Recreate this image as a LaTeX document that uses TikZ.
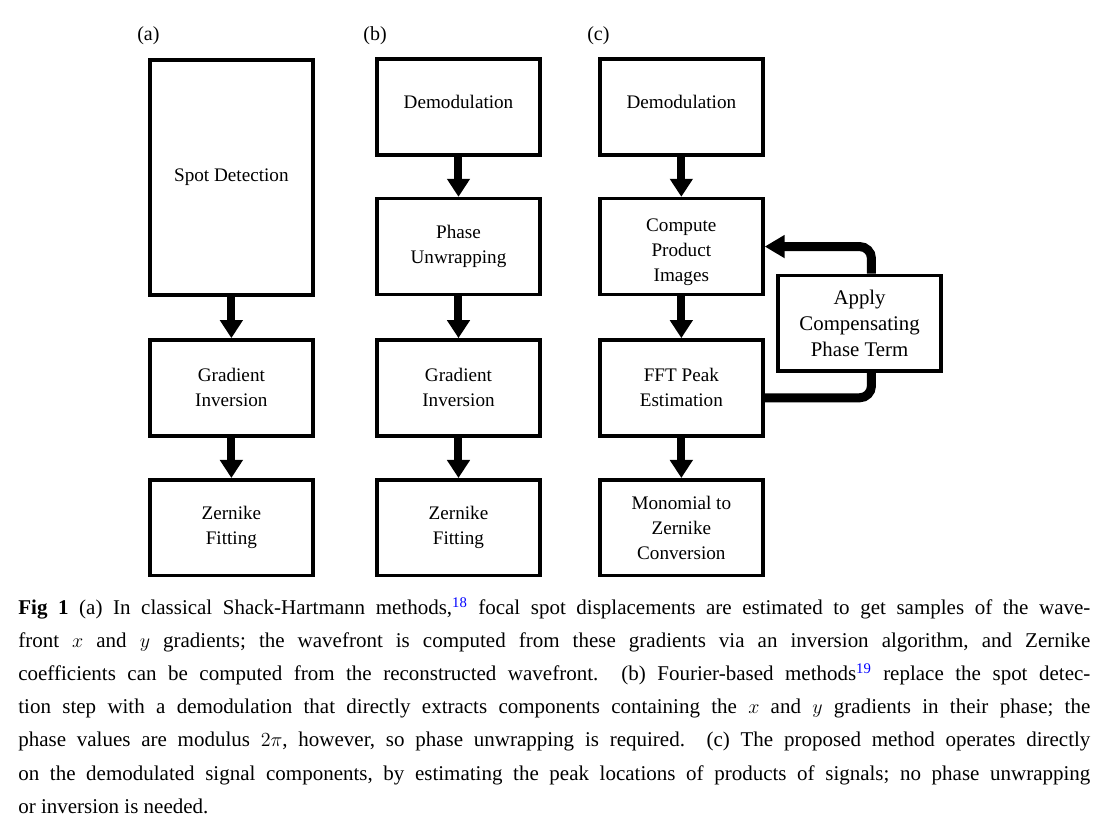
\documentclass[tikz,border=0pt]{standalone}
\usepackage{fontspec}
\setmainfont{Liberation Serif}
\usetikzlibrary{arrows.meta,positioning}
\definecolor{figink}{HTML}{000000}
\definecolor{citeblue}{HTML}{0000FF}
\tikzset{
  stepbox/.style={draw=figink, line width=2.2pt, minimum width=3.44cm,
    minimum height=2.02cm, align=center, text=figink,
    font=\fontsize{11.5}{15}\selectfont},
  tallbox/.style={stepbox, minimum height=4.96cm},
  panellabel/.style={font=\fontsize{12}{14}\selectfont, text=figink},
  flowarrow/.style={-{Triangle[length=10.8pt,width=13.2pt]}, draw=figink,
    line width=4.8pt},
  loopline/.style={draw=figink, line width=5.4pt, rounded corners=.25cm},
  looparrow/.style={loopline, -{Triangle[length=12pt,width=13.2pt]}}
}
\begin{document}
\begin{tikzpicture}[x=1cm,y=1cm]
  \useasboundingbox (0,0) rectangle (23.39,17.71);
  % Three processing chains side by side.
  \node[panellabel] (la) at (3.13,16.96) {(a)};
  \node[panellabel] (lb) at (7.91,16.96) {(b)};
  \node[panellabel] (lc) at (12.62,16.96) {(c)};

  % (a) classical Shack-Hartmann
  \node[tallbox] (spot) at (4.88,13.97) {Spot Detection};
  \node[stepbox] (gradA) at (4.88,9.53) {Gradient\\Inversion};
  \node[stepbox] (zernA) at (4.88,6.58) {Zernike\\Fitting};
  \draw[flowarrow] (spot) -- (gradA);
  \draw[flowarrow] (gradA) -- (zernA);

  % (b) Fourier-based
  \node[stepbox] (demodB) at (9.67,15.45) {\raisebox{3pt}[\height][\depth]{Demodulation}};
  \node[stepbox] (unwrap) at (9.67,12.51) {Phase\\Unwrapping};
  \node[stepbox] (gradB) at (9.67,9.53) {Gradient\\Inversion};
  \node[stepbox] (zernB) at (9.67,6.58) {Zernike\\Fitting};
  \draw[flowarrow] (demodB) -- (unwrap);
  \draw[flowarrow] (unwrap) -- (gradB);
  \draw[flowarrow] (gradB) -- (zernB);

  % (c) proposed method
  \node[stepbox] (demodC) at (14.37,15.45) {\raisebox{3pt}[\height][\depth]{Demodulation}};
  \node[stepbox] (product) at (14.37,12.51)
    {\raisebox{-3pt}[\height][\depth]{\begin{tabular}{@{}c@{}}Compute\\Product\\Images\end{tabular}}};
  \node[stepbox] (fft) at (14.37,9.53) {FFT Peak\\Estimation};
  \node[stepbox] (mono) at (14.37,6.58) {Monomial to\\Zernike\\Conversion};
  \node[stepbox, font=\fontsize{12.5}{15.6}\selectfont] (apply) at (18.13,10.89)
    {Apply\\Compensating\\Phase Term};
  \draw[flowarrow] (demodC) -- (product);
  \draw[flowarrow] (product) -- (fft);
  \draw[flowarrow] (fft) -- (mono);
  \draw[loopline] ([yshift=-.21cm]fft.east) -| ([xshift=.25cm]apply.south);
  \draw[looparrow] ([xshift=.25cm]apply.north) |- (product.east);

  \node[anchor=north west, inner sep=0pt, text width=22.61cm, align=justify,
    text=figink, font=\fontsize{12.6}{19.9}\selectfont\frenchspacing] (caption) at (0.38,5.12)
    {\textbf{Fig 1} (a) In classical Shack-Hartmann methods,\textcolor{citeblue}{\textsuperscript{18}}
    focal spot displacements are estimated to get samples of the wave-\linebreak
    front $x$ and $y$ gradients; the wavefront is computed from these gradients via
    an inversion algorithm, and Zernike\linebreak
    coefficients can be computed from the reconstructed wavefront.\ \ (b) Fourier-based
    methods\textcolor{citeblue}{\textsuperscript{19}} replace the spot detec-\linebreak
    tion step with a demodulation that directly extracts components containing the
    $x$ and $y$ gradients in their phase; the\linebreak
    phase values are modulus $2\pi$, however, so phase unwrapping is required.\ \ (c)
    The proposed method operates directly\linebreak
    on the demodulated signal components, by estimating the peak locations of
    products of signals; no phase unwrapping\linebreak
    or inversion is needed.};
\end{tikzpicture}
\end{document}
